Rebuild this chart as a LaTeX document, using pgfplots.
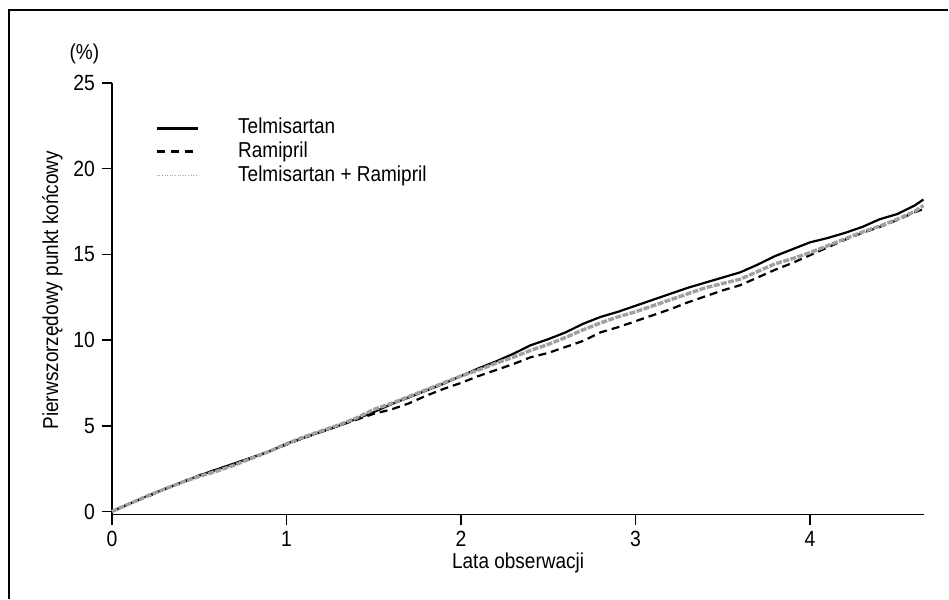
\documentclass[border=0pt]{standalone}
\usepackage{fontspec}
\setmainfont{Liberation Sans}[FakeStretch=0.88]
\usepackage{pgfplots}
\usepackage{pgfplotstable}
\pgfplotsset{compat=1.18}

\definecolor{combo}{HTML}{A0A0A0}

% cumulative primary endpoint (%), years of follow-up
\pgfplotstableread{
x y
0 0
0.1 0.45
0.2 0.9
0.3 1.3
0.4 1.7
0.5 2.1
0.6 2.45
0.7 2.8
0.8 3.15
0.9 3.5
1.0 3.95
1.1 4.3
1.2 4.65
1.3 5.0
1.4 5.4
1.5 5.8
1.6 6.25
1.7 6.65
1.8 7.05
1.9 7.45
2.0 7.9
2.1 8.35
2.2 8.75
2.3 9.2
2.4 9.7
2.5 10.05
2.6 10.45
2.7 10.95
2.8 11.35
2.9 11.65
3.0 12.0
3.1 12.35
3.2 12.7
3.3 13.05
3.4 13.35
3.5 13.65
3.6 13.95
3.7 14.4
3.8 14.9
3.9 15.3
4.0 15.7
4.1 15.95
4.2 16.25
4.3 16.6
4.4 17.05
4.5 17.35
4.6 17.85
4.65 18.2
}\telmi

\pgfplotstableread{
x y
0 0
0.1 0.45
0.2 0.85
0.3 1.3
0.4 1.7
0.5 2.1
0.6 2.45
0.7 2.75
0.8 3.1
0.9 3.5
1.0 3.9
1.1 4.3
1.2 4.65
1.3 5.0
1.4 5.35
1.5 5.7
1.6 5.95
1.7 6.3
1.8 6.75
1.9 7.15
2.0 7.5
2.1 7.9
2.2 8.25
2.3 8.6
2.4 9.0
2.5 9.25
2.6 9.6
2.7 9.95
2.8 10.45
2.9 10.75
3.0 11.1
3.1 11.45
3.2 11.8
3.3 12.2
3.4 12.55
3.5 12.9
3.6 13.2
3.7 13.65
3.8 14.1
3.9 14.5
4.0 14.95
4.1 15.4
4.2 15.85
4.3 16.25
4.4 16.6
4.5 17.0
4.6 17.45
4.65 17.65
}\rami

\pgfplotstableread{
x y
0 0
0.1 0.45
0.2 0.9
0.3 1.3
0.4 1.7
0.5 2.05
0.6 2.35
0.7 2.7
0.8 3.1
0.9 3.5
1.0 3.95
1.1 4.35
1.2 4.7
1.3 5.05
1.4 5.45
1.5 5.95
1.6 6.3
1.7 6.7
1.8 7.1
1.9 7.5
2.0 7.9
2.1 8.25
2.2 8.65
2.3 9.0
2.4 9.4
2.5 9.75
2.6 10.15
2.7 10.6
2.8 11.0
2.9 11.35
3.0 11.65
3.1 12.0
3.2 12.35
3.3 12.7
3.4 13.05
3.5 13.3
3.6 13.55
3.7 14.0
3.8 14.45
3.9 14.75
4.0 15.1
4.1 15.5
4.2 15.9
4.3 16.3
4.4 16.65
4.5 17.05
4.6 17.5
4.65 17.85
}\both

\begin{document}
\begin{tikzpicture}
\begin{axis}[
  name=ax, scale only axis, width=406.5pt, height=216pt,
  xmin=0, xmax=4.655, ymin=-0.18, ymax=25,
  axis x line=bottom, axis y line=left,
  axis line style={-, line width=0.75pt},
  xtick={0,1,2,3,4}, ytick={0,5,10,15,20,25},
  tick align=outside, major tick length=5pt,
  tick style={line width=0.75pt, black},
  /pgf/number format/assume math mode=true,
  tick label style={font=\fontsize{11}{13.2}\selectfont},
  label style={font=\fontsize{10.8}{13}\selectfont},
  xlabel={Lata obserwacji},
  ylabel={Pierwszorzędowy punkt końcowy},
  xlabel style={at={(rel axis cs:0.5,-0.073)}, anchor=north},
  ylabel style={at={(rel axis cs:-0.052,0.52)}, anchor=south},
  clip=false,
  legend cell align=left,
  legend image code/.code={\draw[#1] (0pt,0pt) -- (20.5pt,0pt);},
  legend style={at={(axis cs:0.246,20.98)}, anchor=west, draw=none, fill=none,
    inner sep=0pt, column sep=19pt, row sep=0.7pt,
    font=\fontsize{10.8}{13}\selectfont,
    nodes={inner sep=0.5pt, text height=7.9pt, text depth=2.3pt}},
]
\addplot[black, line width=1.1pt, forget plot] table {\telmi};
\addplot[black, line width=1.1pt, dash pattern=on 4pt off 2.5pt, forget plot] table {\rami};
\addplot[combo, line width=1.7pt, dash pattern=on 3pt off 0.7pt, forget plot] table {\both};

\addlegendimage{black, line width=1.5pt}
\addlegendentry{Telmisartan}
\addlegendimage{black, line width=1.4pt, dash pattern=on 4.3pt off 2.7pt}
\addlegendentry{Ramipril}
\addlegendimage{combo, line width=0.8pt, dash pattern=on 0.5pt off 0.8pt}
\addlegendentry{Telmisartan + Ramipril}

\node[font=\fontsize{10.8}{13}\selectfont] at ([shift={(-13.75pt,14.5pt)}]rel axis cs:0,1) {(\%)};
\end{axis}
\draw[line width=0.75pt] ([shift={(-51.5pt,-42pt)}]ax.south west)
  -- ([shift={(-51.5pt,252.5pt)}]ax.south west)
  -- ([shift={(418.5pt,252.5pt)}]ax.south west);
\path ([shift={(-56pt,-42pt)}]ax.south west) rectangle ([shift={(418.5pt,257.5pt)}]ax.south west);
\end{tikzpicture}
\end{document}
